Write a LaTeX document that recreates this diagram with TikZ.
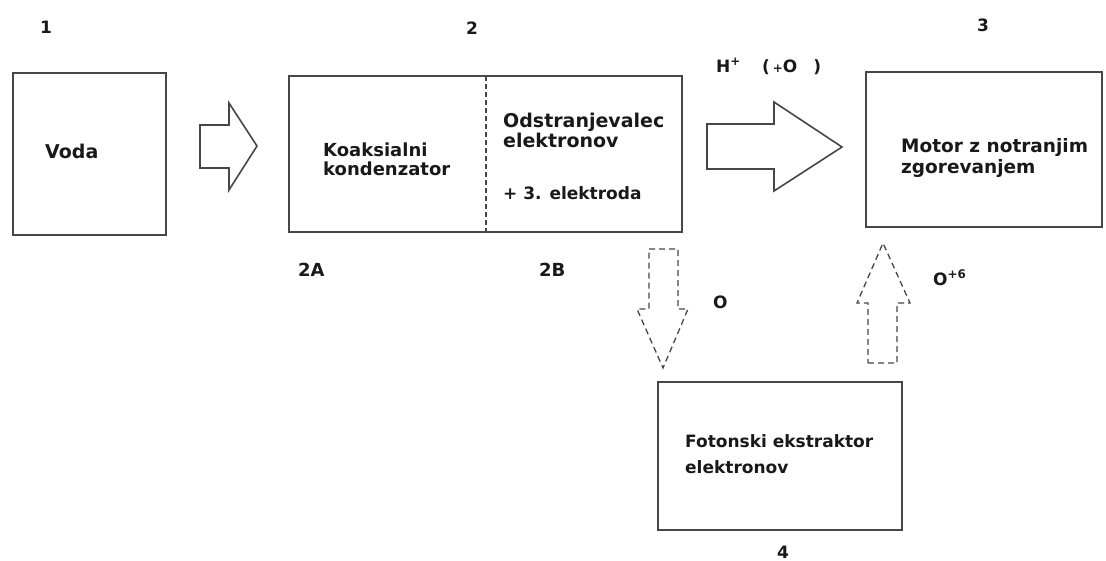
\documentclass[tikz,border=0pt]{standalone}
\usepackage{fontspec}
\setmainfont{DejaVu Sans}
\begin{document}
\begin{tikzpicture}[x=1pt,y=-1pt,
  box/.style={draw=black!72, line width=1.6pt, anchor=north west, inner sep=0pt, outer sep=0pt},
  lbl/.style={font=\fontsize{17}{20}\selectfont\bfseries, inner sep=0pt, text=black!90},
  blk/.style={draw=black!72, line width=1.6pt, line join=miter, fill=white},
  dblk/.style={draw=black!72, line width=1.3pt, dash pattern=on 6pt off 4pt, line join=miter}]
\useasboundingbox (0,0) rectangle (1106,560);

% process blocks
\node[box, minimum width=153pt, minimum height=162pt] (b1) at (13,73) {};
\node[box, minimum width=393pt, minimum height=156pt] (b2) at (289,76) {};
\node[box, minimum width=236pt, minimum height=155pt] (b3) at (866,72) {};
\node[box, minimum width=244pt, minimum height=148pt] (b4) at (658,382) {};

% divider between the two halves of block 2
\coordinate (d1) at (486,76);
\coordinate (d2) at (486,232);
\draw[draw=black!72, line width=1.2pt, dash pattern=on 5pt off 3pt] (d1) -- (d2);

% block texts (base anchor = baseline of the last line)
\node[lbl, font=\fontsize{19}{20}\selectfont\bfseries, anchor=base west] (tvoda) at (45,158) {Voda};
\node[lbl, font=\fontsize{18}{18.5}\selectfont\bfseries, anchor=base west, align=left] (tkoak) at (323,175) {Koaksialni\\kondenzator};
\node[lbl, font=\fontsize{19}{20}\selectfont\bfseries, anchor=base west, align=left] (todst) at (503,147) {Odstranjevalec\\elektronov};
\node[lbl, anchor=base west] (telek) at (503,199) {+ 3. elektroda};
\node[lbl, font=\fontsize{18.5}{20.5}\selectfont\bfseries, anchor=base west, align=left] (tmot) at (901,173) {Motor z notranjim\\zgorevanjem};
\node[lbl, font=\fontsize{17}{26}\selectfont\bfseries, anchor=base west, align=left] (tfot) at (685,473) {Fotonski ekstraktor\\elektronov};

% numbering
\node[lbl, anchor=base] (n1) at (46,33) {1};
\node[lbl, anchor=base] (n2) at (472,34) {2};
\node[lbl, anchor=base] (n3) at (983,31) {3};
\node[lbl, anchor=base] (n4) at (783,558) {4};
\node[lbl, font=\fontsize{18}{20}\selectfont\bfseries, anchor=base west] (n2a) at (298,276) {2A};
\node[lbl, font=\fontsize{18}{20}\selectfont\bfseries, anchor=base west] (n2b) at (539,276) {2B};

% flow labels
\node[lbl, anchor=base west] (lh) at (716,72) {H\textsuperscript{+}};
\node[lbl, anchor=base west] (lo1) at (762,72) {(\,{\fontsize{12}{12}\selectfont+}O\hspace{0.95em})};
\node[lbl, anchor=base west] (lo2) at (713,308) {O};
\node[lbl, anchor=base west] (lo3) at (933,285) {O\textsuperscript{+6}};

% solid block arrows
\draw[blk] (200,125) -- (229,125) -- (229,103) -- (257,146) -- (229,190) -- (229,168) -- (200,168) -- cycle;
\draw[blk] (707,124) -- (774,124) -- (774,102) -- (842,147) -- (774,191) -- (774,169) -- (707,169) -- cycle;

% dashed block arrows
\draw[dblk] (649,249) -- (678,249) -- (678,309) -- (688,309) -- (663,368) -- (637,309) -- (649,309) -- cycle;
\draw[dblk] (868,363) -- (897,363) -- (897,303) -- (910,303) -- (883,243) -- (857,303) -- (868,303) -- cycle;
\end{tikzpicture}
\end{document}
